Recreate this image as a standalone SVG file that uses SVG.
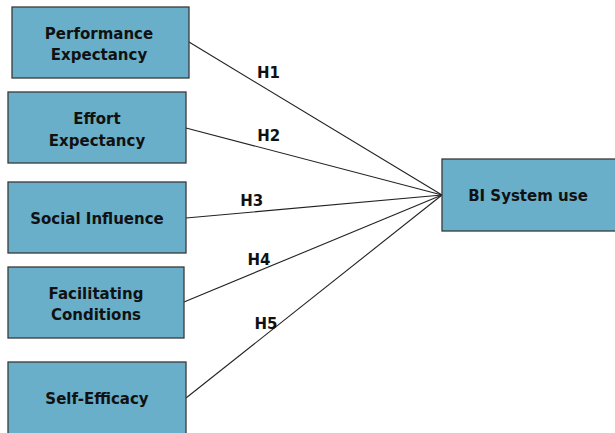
<svg xmlns="http://www.w3.org/2000/svg" width="615" height="433" viewBox="0 0 615 433">
<style>
.box{fill:#69afc9;stroke:#3a3a3a;stroke-width:1.3}
.t{font-family:"DejaVu Sans",Verdana,sans-serif;font-weight:bold;font-size:15px;fill:#111;text-anchor:middle}
.c{stroke:#222;stroke-width:1.1;fill:none}
</style>
<rect width="615" height="433" fill="#fff"/>
<g id="connectors">
<line class="c" x1="189" y1="42" x2="442" y2="195"/>
<line class="c" x1="186" y1="128" x2="442" y2="195"/>
<line class="c" x1="186" y1="218" x2="442" y2="195"/>
<line class="c" x1="184" y1="302" x2="442" y2="195"/>
<line class="c" x1="186" y1="398" x2="442" y2="195"/>
<text class="t" x="268.5" y="77.5">H1</text>
<text class="t" x="268.7" y="140.5">H2</text>
<text class="t" x="251.7" y="205.5">H3</text>
<text class="t" x="259" y="265">H4</text>
<text class="t" x="266" y="328.5">H5</text>
</g>
<g id="pe">
<rect class="box" x="12" y="7" width="177" height="71"/>
<text class="t" x="99" y="38.5">Performance</text>
<text class="t" x="99" y="59.5">Expectancy</text>
</g>
<g id="ee">
<rect class="box" x="8" y="92" width="178" height="71"/>
<text class="t" x="97" y="123.5">Effort</text>
<text class="t" x="97" y="145.5">Expectancy</text>
</g>
<g id="si">
<rect class="box" x="8" y="182" width="178" height="71"/>
<text class="t" x="97" y="223.5">Social Influence</text>
</g>
<g id="fc">
<rect class="box" x="8" y="267" width="176" height="71"/>
<text class="t" x="96" y="298.5">Facilitating</text>
<text class="t" x="96" y="319.5">Conditions</text>
</g>
<g id="se">
<rect class="box" x="8" y="362" width="178" height="72"/>
<text class="t" x="97" y="403.5">Self-Efficacy</text>
</g>
<g id="bi">
<rect class="box" x="442" y="159" width="175" height="72"/>
<text class="t" x="528" y="201">BI System use</text>
</g>
</svg>
